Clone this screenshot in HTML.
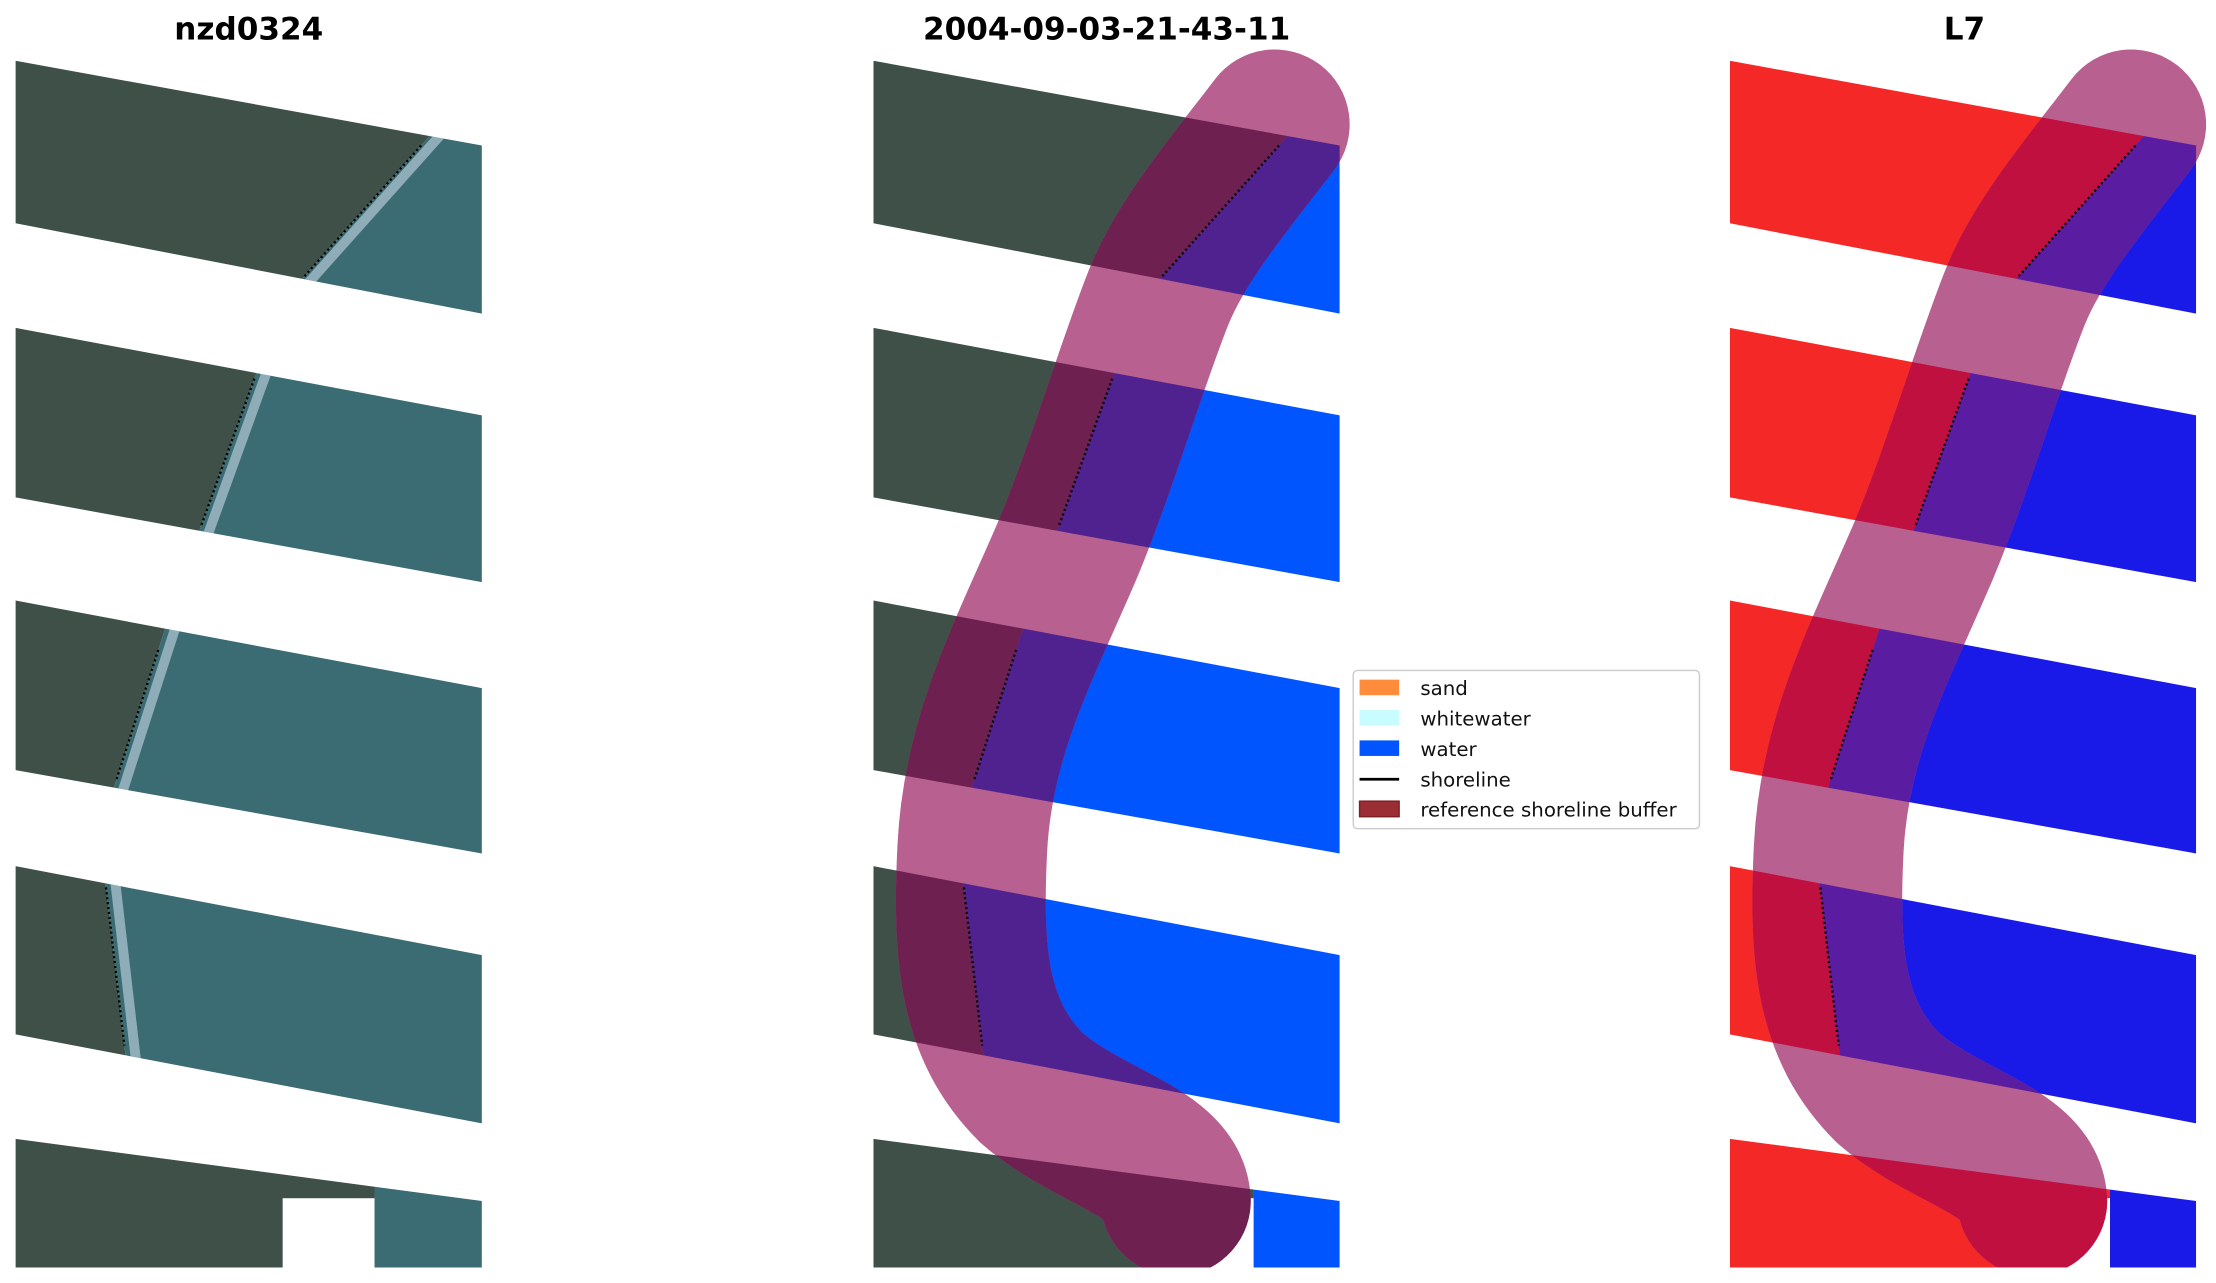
<!DOCTYPE html>
<html><head><meta charset="utf-8"><style>
html,body{margin:0;padding:0;background:#fff;}
svg{display:block;}
text{font-family:"DejaVu Sans","Liberation Sans",sans-serif;}
</style></head><body>
<svg id="s" width="2216" height="1283" viewBox="0 0 1568 908" preserveAspectRatio="none" xmlns="http://www.w3.org/2000/svg"></svg>
<script>
const s=document.getElementById('s');
let h='';
const strips=[
 {t0:43,t1:103,b0:158,b1:222,st:[298,103],sb:[215,196]},
 {t0:232,t1:294,b0:352,b1:412,st:[180,268],sb:[142,373]},
 {t0:425,t1:487,b0:545,b1:604,st:[112,460],sb:[82,553]},
 {t0:613,t1:676,b0:732,b1:795,st:[75,628],sb:[88,740]},
 {t0:806,t1:850,b0:897,b1:897,st:null,sb:null}
];
const panels=[
 {dx:0,land:'#3e5048',water:'#3b6b73',ww:'#c8d8e8',bl:null,bw:null},
 {dx:607,land:'#3e5048',water:'#0055ff',ww:null,bl:'#6e2050',bw:'#4f2290'},
 {dx:1213,land:'#f52828',water:'#1a1ae8',ww:null,bl:'#c0103f',bw:'#5a1ca0'}
];
const band="M 902 88 C 870 130, 836 170, 820 210 C 800 260, 780 330, 755 390 C 725 460, 692 520, 688 600 C 684 680, 690 730, 730 770 C 770 805, 830 815, 832 850";
const BW=106;
function shorePts(st,dx){
 const [x1,y1]=st.st,[x2,y2]=st.sb;
 const k=(x2-x1)/(y2-y1);
 const ya=y1-60,yb=y2+60;
 return [[x1+k*(ya-y1)+dx,ya],[x1+k*(yb-y1)+dx,yb]];
}
let defs='<defs><clipPath id="all"><rect x="0" y="0" width="1568" height="897"/></clipPath>';
panels.forEach((p,pi)=>{
 strips.forEach((st,i)=>{
  const L=11+p.dx,R=341+p.dx;
  defs+=`<clipPath id="c${pi}_${i}"><polygon points="${L},${st.t0} ${R},${st.t1} ${R},${st.b1} ${L},${st.b0}"/></clipPath>`;
  if(st.st){
   const [a,b]=shorePts(st,p.dx);
   defs+=`<clipPath id="l${pi}_${i}"><polygon points="${L-5},${a[1]} ${a[0]},${a[1]} ${b[0]},${b[1]} ${L-5},${b[1]}"/></clipPath>`;
   defs+=`<clipPath id="w${pi}_${i}"><polygon points="${R+5},${a[1]} ${a[0]},${a[1]} ${b[0]},${b[1]} ${R+5},${b[1]}"/></clipPath>`;
  } else {
   const wx=pi==0?265:280;
   defs+=`<clipPath id="l${pi}_${i}"><rect x="${L-5}" y="790" width="${wx-11+5}" height="120"/></clipPath>`;
   defs+=`<clipPath id="w${pi}_${i}"><rect x="${wx+p.dx}" y="790" width="100" height="120"/></clipPath>`;
  }
 });
});
defs+='</defs>';
h+=defs+'<g clip-path="url(#all)">';
panels.forEach((p,pi)=>{
 const off=p.dx-607;
 strips.forEach((st,i)=>{
  const L=11+p.dx;
  let g=`<g clip-path="url(#c${pi}_${i})">`;
  g+=`<g clip-path="url(#l${pi}_${i})"><rect x="${L}" y="${st.t0-5}" width="330" height="${st.b1-st.t0+10}" fill="${p.land}"/></g>`;
  g+=`<g clip-path="url(#w${pi}_${i})"><rect x="${L}" y="${st.t0-5}" width="330" height="${st.b1-st.t0+10}" fill="${p.water}"/></g>`;
  if(!st.st) g+=`<rect x="${200+p.dx}" y="848" width="${pi==0?65:80}" height="60" fill="#fff"/>`;
  g+='</g>';
  h+=g;
 });
 if(pi>0){
  h+=`<path transform="translate(${off},0)" d="${band}" fill="none" stroke="#b8608f" stroke-width="${BW}" stroke-linecap="round"/>`;
  strips.forEach((st,i)=>{
   if(!st.st){
    h+=`<g clip-path="url(#c${pi}_${i})"><g clip-path="url(#l${pi}_${i})"><path transform="translate(${off},0)" d="${band}" fill="none" stroke="${p.bl}" stroke-width="${BW}" stroke-linecap="round"/></g></g>`;
    return;
   }
   h+=`<g clip-path="url(#c${pi}_${i})"><g clip-path="url(#l${pi}_${i})"><path transform="translate(${off},0)" d="${band}" fill="none" stroke="${p.bl}" stroke-width="${BW}" stroke-linecap="round"/></g><g clip-path="url(#w${pi}_${i})"><path transform="translate(${off},0)" d="${band}" fill="none" stroke="${p.bw}" stroke-width="${BW}" stroke-linecap="round"/></g></g>`;
  });
 }
 strips.forEach((st,i)=>{
  if(!st.st) return;
  let g=`<g clip-path="url(#c${pi}_${i})">`;
  if(p.ww){
   const [a,b]=shorePts(st,p.dx);
   g+=`<line x1="${a[0]+7}" y1="${a[1]}" x2="${b[0]+7}" y2="${b[1]}" stroke="${p.ww}" stroke-width="7" opacity="0.6"/>`;
  }
  g+=`<line x1="${st.st[0]+p.dx}" y1="${st.st[1]}" x2="${st.sb[0]+p.dx}" y2="${st.sb[1]}" stroke="#000" stroke-width="1.6" stroke-dasharray="1.5 2"/></g>`;
  h+=g;
 });
});
h+='</g>';
h+=`<text x="176" y="28" text-anchor="middle" font-size="22" font-weight="bold">nzd0324</text>`;
h+=`<text x="783" y="28" text-anchor="middle" font-size="22" font-weight="bold">2004-09-03-21-43-11</text>`;
h+=`<text x="1390" y="28" text-anchor="middle" font-size="22" font-weight="bold">L7</text>`;
h+=`<rect x="957.5" y="474.5" width="245" height="112" rx="3" fill="#fff" stroke="#ccc"/>`;
const items=[['sand','#ff8c3a','r'],['whitewater','#c8fcff','r'],['water','#0055ff','r'],['shoreline','#000','l'],['reference shoreline buffer','#9a2e34','r']];
items.forEach((it,i)=>{
 const y=487+i*21.5;
 if(it[2]=='r') h+=`<rect x="962" y="${y-6}" width="28" height="11" fill="${it[1]}" ${i==4?'stroke="#7a1f25"':''}/>`;
 else h+=`<line x1="962" y1="${y}" x2="990" y2="${y}" stroke="#000" stroke-width="2"/>`;
 h+=`<text x="1005" y="${y+5}" font-size="14" fill="#111">${it[0]}</text>`;
});
s.innerHTML=h;
</script>
</body></html>
